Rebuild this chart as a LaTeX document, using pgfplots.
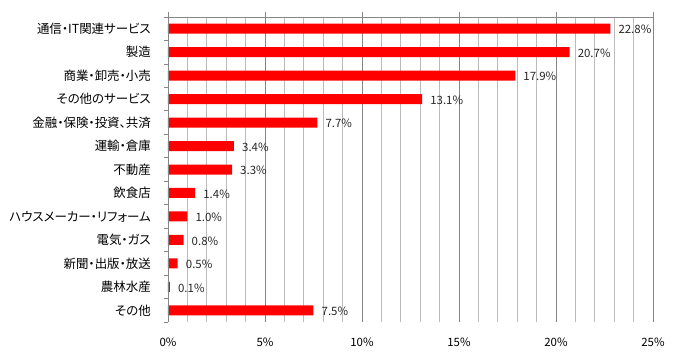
\documentclass[border=0pt]{standalone}
\usepackage{pgfplots}
\pgfplotsset{compat=1.18}
\usepackage{fontspec}
\setmainfont{Noto Sans CJK JP}[RawFeature=+palt]
\definecolor{majgrid}{HTML}{868686}
\definecolor{mingrid}{HTML}{BBBBBB}
\begin{document}
\begin{tikzpicture}
\begin{axis}[name=ax, scale only axis, width=485bp, height=305bp,
  xbar, bar width=10bp,
  xmin=0, xmax=25, ymin=0.5, ymax=13.5, y dir=reverse,
  xtick={0,5,...,25}, minor x tick num=4,
  xticklabels={0\%,5\%,10\%,15\%,20\%,25\%},
  xmajorgrids, xminorgrids,
  major x grid style={majgrid, line width=0.8bp},
  minor x grid style={mingrid, line width=0.8bp},
  xtick pos=right, xticklabel pos=left, tick align=outside,
  major tick length=5bp, minor tick length=4bp,
  major x tick style={majgrid, line width=0.8bp},
  minor x tick style={draw=none},
  ytick={1,...,13},
  yticklabels={通信・IT関連サービス,製造,商業・卸売・小売,その他のサービス,金融・保険・投資、共済,運輸・倉庫,不動産,飲食店,ハウスメーカー・リフォーム,電気・ガス,新聞・出版・放送,農林水産,その他},
  major y tick style={draw=none},
  minor ytick={0.5,1.5,...,13.5},
  minor y tick style={majgrid, line width=0.8bp},
  ytick pos=left,
  axis line style={draw=none},
  yticklabel style={font=\fontsize{12.5}{14}\selectfont, anchor=east, inner sep=0pt, xshift=-12bp},
  xticklabel style={font=\fontsize{11.5}{13}\selectfont, inner sep=0pt, yshift=-10.5bp},
  /pgf/number format/assume math mode=true,
  nodes near coords={\pgfmathprintnumber[fixed,fixed zerofill,precision=1]{\pgfplotspointmeta}\%},
  every node near coord/.append style={font=\fontsize{11.5}{13}\selectfont, text=black!85, anchor=west, inner sep=0pt, xshift=8bp, yshift=-1bp},
]
\addplot[fill=red, draw=none] coordinates {
  (22.8,1) (20.7,2) (17.9,3) (13.1,4) (7.7,5) (3.4,6) (3.3,7)
  (1.4,8) (1.0,9) (0.8,10) (0.5,11) (0.1,12) (7.5,13)};
\draw[majgrid, line width=0.8bp] (axis cs:0,0.5) -- (axis cs:25,0.5);
\draw[majgrid, line width=0.8bp] (axis cs:0,0.5) -- (axis cs:0,13.5);
\end{axis}
\pgfresetboundingbox
\path[use as bounding box] ([xshift=-168bp,yshift=-32bp]ax.south west) rectangle ([xshift=25bp,yshift=17bp]ax.north east);
\end{tikzpicture}
\end{document}
